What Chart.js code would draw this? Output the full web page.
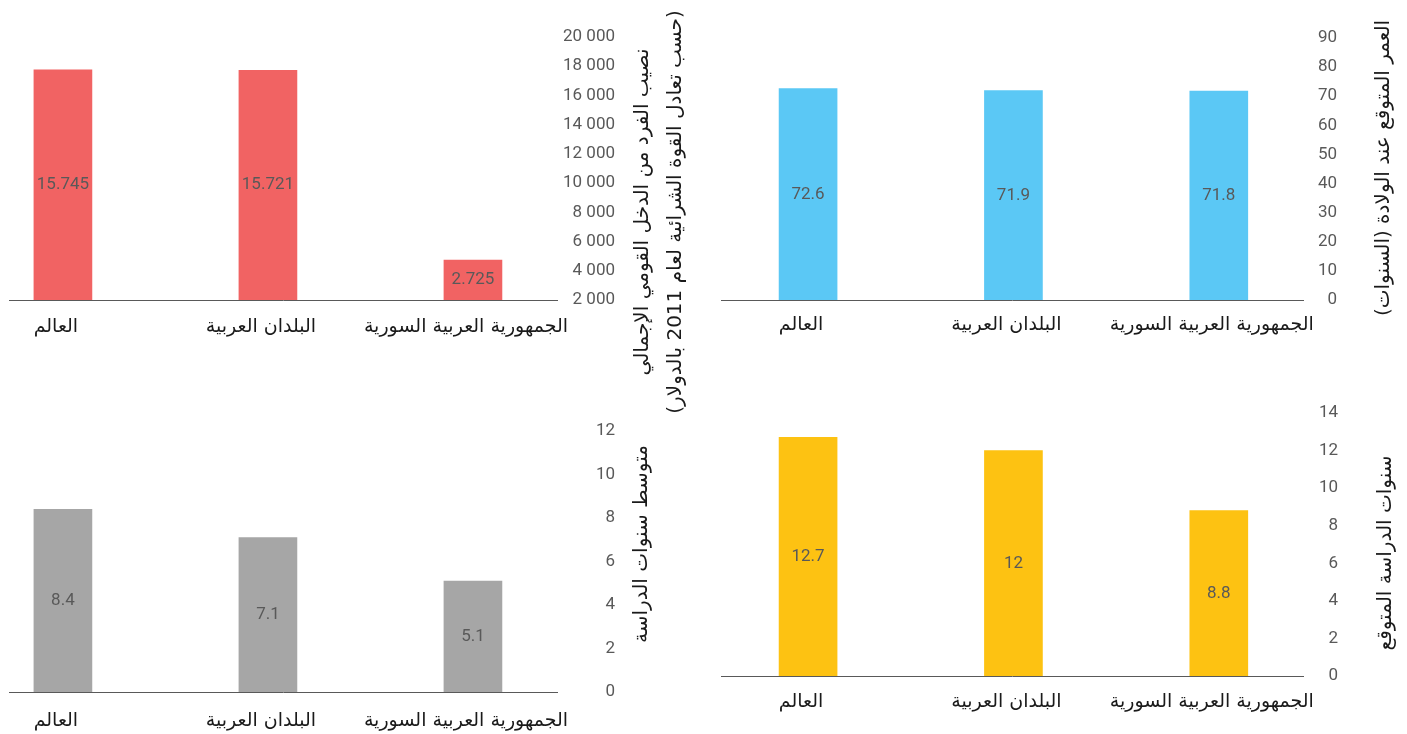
<!DOCTYPE html>
<html>
<head>
<meta charset="utf-8">
<title>مؤشرات التنمية البشرية</title>
<script src="https://cdn.jsdelivr.net/npm/chart.js@4.4.1/dist/chart.umd.min.js"></script>
<style>
  body { margin: 0; background: #fff; }
  .wrap { position: relative; width: 1407px; height: 734px; overflow: hidden; }
  canvas { position: absolute; }
</style>
</head>
<body>
<div class="wrap">
  <canvas id="gni" width="700" height="420" style="left:0;top:0"></canvas>
  <canvas id="life" width="707" height="367" style="left:700px;top:0"></canvas>
  <canvas id="meanSchool" width="700" height="367" style="left:0;top:367px"></canvas>
  <canvas id="expSchool" width="707" height="367" style="left:700px;top:367px"></canvas>
</div>
<script>
// categories (same for all four panels)
const categories = ['العالم', 'البلدان العربية', 'الجمهورية العربية السورية'];

// GNI per capita (2011 PPP $)
const gniValues = [15745, 15721, 2725];
const gniValueLabels = ['15.745', '15.721', '2.725'];
const gniTicks = ['2 000', '4 000', '6 000', '8 000', '10 000', '12 000', '14 000', '16 000', '18 000', '20 000'];
const gniTitle = ['نصيب الفرد من الدخل القومي الإجمالي', '(حسب تعادل القوة الشرائية لعام 2011 بالدولار)'];

// life expectancy at birth
const lifeValues = [72.6, 71.9, 71.8];
const lifeValueLabels = ['72.6', '71.9', '71.8'];
const lifeTicks = ['0', '10', '20', '30', '40', '50', '60', '70', '80', '90'];
const lifeTitle = ['العمر المتوقع عند الولادة (السنوات)'];

// mean years of schooling
const meanValues = [8.4, 7.1, 5.1];
const meanValueLabels = ['8.4', '7.1', '5.1'];
const meanTicks = ['0', '2', '4', '6', '8', '10', '12'];
const meanTitle = ['متوسط سنوات الدراسة'];

// expected years of schooling
const expValues = [12.7, 12, 8.8];
const expValueLabels = ['12.7', '12', '8.8'];
const expTicks = ['0', '2', '4', '6', '8', '10', '12', '14'];
const expTitle = ['سنوات الدراسة المتوقع'];

const arabicFont = "'DejaVu Sans', sans-serif";
const numFont = "Roboto, sans-serif";

// value written in the middle of each bar
const barValueLabels = {
  id: 'barValueLabels',
  afterDatasetsDraw(chart, args, opts) {
    const ctx = chart.ctx;
    const meta = chart.getDatasetMeta(0);
    ctx.save();
    ctx.font = '17px ' + numFont;
    ctx.fillStyle = '#595959';
    ctx.textAlign = 'center';
    ctx.textBaseline = 'middle';
    meta.data.forEach((bar, i) => {
      ctx.fillText(opts.texts[i], bar.x, (bar.y + bar.base) / 2);
    });
    ctx.restore();
  }
};

// axis title on the right, rotated like a left-hand title
const sideTitle = {
  id: 'sideTitle',
  afterDraw(chart, args, opts) {
    const ctx = chart.ctx;
    ctx.save();
    ctx.font = '20px ' + arabicFont;
    ctx.fillStyle = '#1a1a1a';
    ctx.direction = 'rtl';
    ctx.textAlign = 'center';
    ctx.textBaseline = 'middle';
    for (let i = 0; i < opts.lines.length; i++) {
      ctx.save();
      ctx.translate(opts.x[i], opts.y);
      ctx.rotate(-Math.PI / 2);
      ctx.fillText(opts.lines[i], 0, 0);
      ctx.restore();
    }
    ctx.restore();
  }
};

function makeChart(id, p) {
  const canvas = document.getElementById(id);
  const W = canvas.width, H = canvas.height;
  const xH = 40;
  return new Chart(canvas, {
    type: 'bar',
    data: {
      datasets: [{
        data: p.values.map((v, i) => ({ x: i, y: v })),
        backgroundColor: p.color,
        borderWidth: 0,
        barThickness: 58
      }]
    },
    options: {
      responsive: false,
      animation: false,
      layout: {
        padding: {
          left: p.area[0],
          top: p.area[1],
          right: W - p.area[2] - p.yW,
          bottom: H - p.area[3] - xH
        }
      },
      plugins: {
        legend: { display: false },
        tooltip: { enabled: false },
        barValueLabels: { texts: p.valueLabels },
        sideTitle: { lines: p.title, x: p.titleX, y: p.titleY }
      },
      scales: {
        x: {
          type: 'linear',
          bounds: 'data',
          offset: false,
          min: p.xMin,
          max: 2.41,
          grid: { display: false, drawTicks: false },
          border: { display: true, color: '#595959', width: 1 },
          afterBuildTicks: s => { s.ticks = categories.map((c, i) => ({ value: i })); },
          afterFit: s => { s.height = xH; },
          ticks: {
            autoSkip: false,
            maxRotation: 0,
            padding: p.xPad,
            labelOffset: -7,
            color: '#1a1a1a',
            font: { family: arabicFont, size: 19 },
            callback: v => categories[v]
          }
        },
        y: {
          position: 'right',
          min: 0,
          max: p.yMax,
          grid: { display: false, drawTicks: false },
          border: { display: false },
          afterFit: s => { s.width = p.yW; },
          ticks: {
            stepSize: p.yStep,
            padding: 2,
            crossAlign: 'far',
            color: '#595959',
            font: { family: numFont, size: 17 },
            callback: (v, i) => p.ticks[i]
          }
        }
      }
    },
    plugins: [barValueLabels, sideTitle]
  });
}

makeChart('gni', {
  values: gniValues, valueLabels: gniValueLabels, ticks: gniTicks, title: gniTitle,
  color: '#F16363', yMax: 18000, yStep: 2000, yW: 58,
  area: [9, 37, 557, 300], xMin: -0.263, xPad: 16,
  titleX: [643, 676], titleY: 212
});

makeChart('life', {
  values: lifeValues, valueLabels: lifeValueLabels, ticks: lifeTicks, title: lifeTitle,
  color: '#5BC8F5', yMax: 90, yStep: 10, yW: 34,
  area: [21, 38, 603, 300], xMin: -0.424, xPad: 14,
  titleX: [684], titleY: 168
});

makeChart('meanSchool', {
  values: meanValues, valueLabels: meanValueLabels, ticks: meanTicks, title: meanTitle,
  color: '#A6A6A6', yMax: 12, yStep: 2, yW: 58,
  area: [9, 64, 557, 325], xMin: -0.263, xPad: 18,
  titleX: [642], titleY: 177
});

makeChart('expSchool', {
  values: expValues, valueLabels: expValueLabels, ticks: expTicks, title: expTitle,
  color: '#FDC212', yMax: 14, yStep: 2, yW: 35,
  area: [21, 46, 603, 309], xMin: -0.424, xPad: 15,
  titleX: [686], titleY: 186
});
</script>
</body>
</html>
